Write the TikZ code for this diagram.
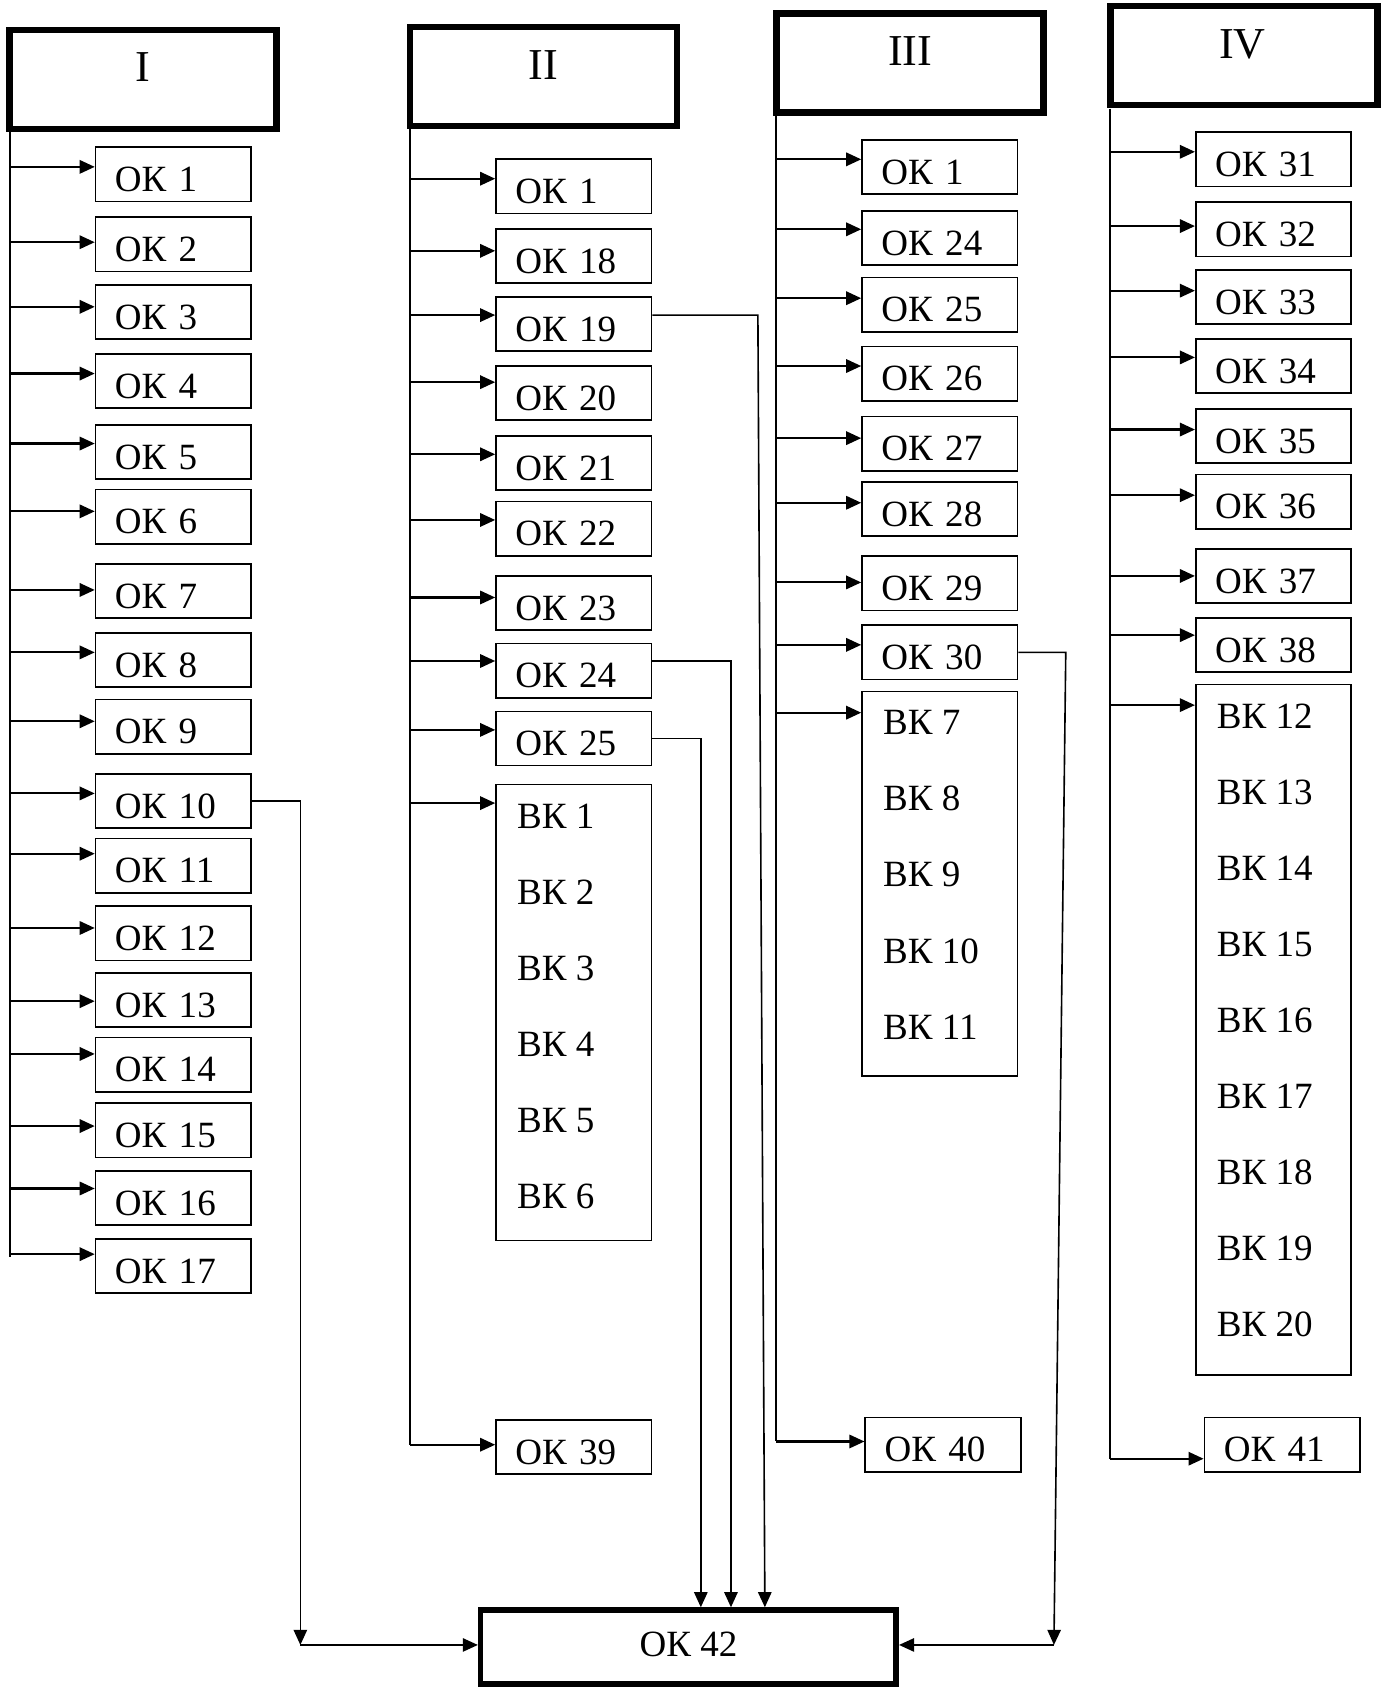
\documentclass[tikz,border=0pt]{standalone}
\usepackage{fontspec}
\setmainfont{Liberation Serif}
\usetikzlibrary{arrows.meta}
\newcommand\bxf{\fontsize{17.2}{20}\selectfont}
\newcommand\hdf{\fontsize{20.5}{24}\selectfont}
\begin{document}
\begin{tikzpicture}[x=0.5pt,y=-0.5pt,
  >={Triangle[length=7pt,width=6.2pt]},
  okbox/.style={draw, line width=0.8pt, minimum width=72.2pt, minimum height=25.2pt,
    inner ysep=0pt, inner xsep=9pt, text width=54.2pt, align=left, font=\bxf,
    text height=16pt, text depth=0pt},
  vkbox/.style={draw, line width=0.8pt, minimum width=72.2pt, inner sep=0pt},
  vktxt/.style={font=\bxf, text height=11.4pt, text depth=0pt, inner sep=0pt, anchor=west},
  hdr/.style={draw, line width=3pt, minimum width=124pt, minimum height=46pt, inner sep=0pt},
  hdtxt/.style={font=\hdf, text height=13.5pt, text depth=0pt, inner sep=0pt},
  trunk/.style={line width=1pt},
  feed/.style={line width=1pt, ->},
  link/.style={line width=0.75pt, ->}]
\useasboundingbox (0,0) rectangle (1285.6,1568);

% ---------- Column I ----------
\node[hdr] (H1) at (133,74) {};
\node[hdtxt] (H1t) at (133,62) {I};
\coordinate (T1a) at (9,123);
\coordinate (T1b) at (9,1168);
\draw[trunk] (T1a) -- (T1b);
\foreach \t/\a/\l [count=\i] in {136/155/1,201/225/2,264/285/3,328/347/4,394/412/5,
  454/475/6,523/548/7,587/606/8,649/670/9,718/737/10,778/793/11,841/862/12,
  903/930/13,963/979/14,1024/1046/15,1087/1104/16,1150/1165/17}{
  \node[okbox] (A\i) at (161,\t+26) {ОК \l};
  \draw[feed] (9,\a) -- (A\i.west |- 0,\a);
}

% ---------- Column II ----------
\node[hdr] (H2) at (505,71) {};
\node[hdtxt] (H2t) at (505,60.5) {II};
\coordinate (T2a) at (381,120);
\coordinate (T2b) at (381,1342);
\draw[trunk] (T2a) -- (T2b);
\foreach \t/\a/\l [count=\i] in {147/166/1,212/233/18,275/292.7/19,339/355/20,
  404/422/21,465/483/22,534/555/23,597/614/24,660/678/25}{
  \node[okbox] (B\i) at (533,\t+26) {ОК \l};
  \draw[feed] (381,\a) -- (B\i.west |- 0,\a);
}
\node[vkbox, minimum height=211.7pt] (B10) at (533,940.5) {};
\draw[feed] (381,746) -- (B10.west |- 0,746);
\foreach \n [count=\k from 0] in {1,...,6}{
  \node[vktxt] (BV\n) at (480,758+70.6*\k) {ВК \n};
}
\node[okbox] (B11) at (533,1344) {ОК 39};
\draw[feed] (T2b) -- (B11.west |- T2b);

% ---------- Column III ----------
\node[hdr] (H3) at (845.5,58.5) {};
\node[hdtxt] (H3t) at (845.5,47.6) {III};
\coordinate (T3a) at (721,108);
\coordinate (T3b) at (721,1339);
\draw[trunk] (T3a) -- (T3b);
\foreach \t/\a/\l [count=\i] in {129/148/1,195/213/24,257/277/25,321/340/26,
  386/407/27,447/467/28,516/541/29,580/599/30}{
  \node[okbox] (C\i) at (873,\t+26) {ОК \l};
  \draw[feed] (721,\a) -- (C\i.west |- 0,\a);
}
\node[vkbox, minimum height=178.5pt] (C9) at (873,820.75) {};
\draw[feed] (721,662) -- (C9.west |- 0,662);
\foreach \n [count=\k from 0] in {7,...,11}{
  \node[vktxt] (CV\n) at (820,671+70.75*\k) {ВК \n};
}
\node[okbox] (C10) at (876,1342) {ОК 40};
\draw[feed] (T3b) -- (C10.west |- T3b);

% ---------- Column IV ----------
\node[hdr] (H4) at (1155.5,51.75) {};
\node[hdtxt] (H4t) at (1154,40.5) {IV};
\coordinate (T4a) at (1031,101);
\coordinate (T4b) at (1031,1355);
\draw[trunk] (T4a) -- (T4b);
\foreach \t/\a/\l [count=\i] in {122/141/31,187/210/32,250/270/33,314/332/34,
  379/399/35,440/460/36,509/535/37,573/590/38}{
  \node[okbox] (D\i) at (1183,\t+26) {ОК \l};
  \draw[feed] (1031,\a) -- (D\i.west |- 0,\a);
}
\node[vkbox, minimum height=320.7pt] (D9) at (1183,956.5) {};
\draw[feed] (1031,655) -- (D9.west |- 0,655);
\foreach \n [count=\k from 0] in {12,...,20}{
  \node[vktxt] (DV\n) at (1130,665+70.6*\k) {ВК \n};
}
\node[okbox] (D10) at (1191,1342) {ОК 41};
\draw[feed] (T4b) -- (D10.west |- T4b);

% ---------- OK 42 ----------
\node[draw, line width=2.6pt, minimum width=193pt, minimum height=34.4pt, inner sep=0pt,
  font=\bxf, text height=8.5pt, text depth=0pt] (K) at (639.5,1530) {ОК 42};

\coordinate (cL) at (279,1528);
\coordinate (cR) at (979,1528);
\coordinate (k19) at (710.5,1493);
\coordinate (k24) at (679,1493);
\coordinate (k25) at (651,1493);

\draw[link] (A10.east) -- (279,744) -- (cL);
\draw[link] (cL) -- (K.west |- cL);
\draw[link] (B3.east |- 0,292.7) -- (704,292.7) -- (k19);
\draw[link] (B8.east |- 0,614) -- (679,614) -- (k24);
\draw[link] (B9.east |- 0,686) -- (651,686) -- (k25);
\draw[link] (C8.east) -- (990,606) -- (cR);
\draw[link] (cR) -- (K.east |- cR);
\end{tikzpicture}
\end{document}
